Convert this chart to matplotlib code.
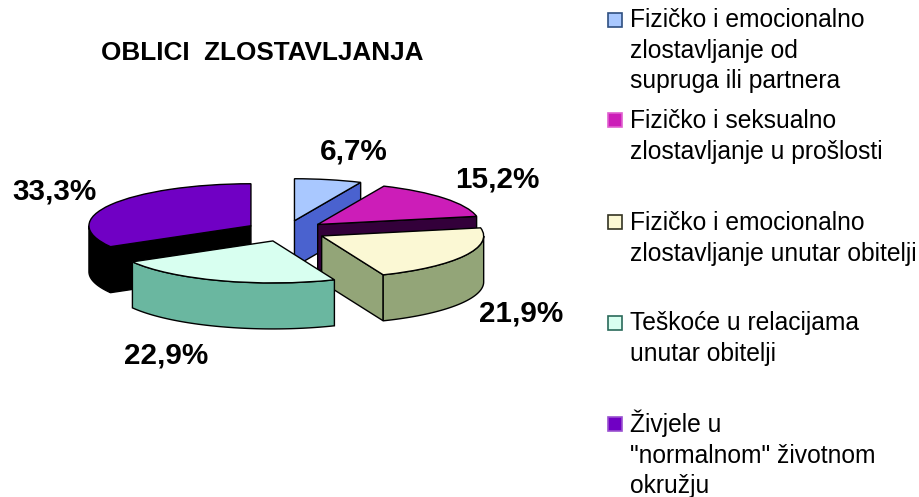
import numpy as np
import matplotlib
matplotlib.use("Agg")
import matplotlib.pyplot as plt
from matplotlib.patches import Rectangle

plt.rcParams['font.family'] = ['Liberation Sans', 'DejaVu Sans']

# --- data ---
title = "OBLICI  ZLOSTAVLJANJA"
categories = [
    "Fizičko i emocionalno\nzlostavljanje od\nsupruga ili partnera",
    "Fizičko i seksualno\nzlostavljanje u prošlosti",
    "Fizičko i emocionalno\nzlostavljanje unutar obitelji",
    "Teškoće u relacijama\nunutar obitelji",
    "Živjele u\n\"normalnom\" životnom\nokružju",
]
values = [6.7, 15.2, 21.9, 22.9, 33.3]

# --- styles ---
top_colors = ["#A9C8FF", "#CC1DB8", "#FBF8D4", "#D8FFF0", "#7000C4"]
side_colors = ["#4A62CF", "#33003A", "#93A578", "#6AB7A0", "#000000"]
swatch_edges = ["#2F4F80", "#E060D0", "#333322", "#2A6A5A", "#9A50D0"]
draw_rank = [2, 3, 4, 5, 1]  # painter's order of slices
explode_amt = 0.25

W, H = 920, 497
CX, CY, RX, RY, DEPTH = 286, 231, 162, 42, 46  # pie geometry in pixels
label_px = [(354, 152), (497, 179), (521, 314), (166, 355), (54, 192)]
legend_swatch_top = [13, 113, 215, 316, 417]
legend_baseline = [27, 128, 230, 330, 432]
line_step = 30.7

fig = plt.figure(figsize=(W / 100, H / 100), dpi=100, facecolor="white")
ax = fig.add_axes([0, 0, 1, 1])

wedges, _ = ax.pie(values, explode=[explode_amt] * len(values), startangle=90,
                   counterclock=False, radius=1, colors=top_colors,
                   wedgeprops=dict(edgecolor="#000000", linewidth=1.0))
ax.set_aspect("auto")
ax.set_xlim(-CX / RX, (W - CX) / RX)
ax.set_ylim((CY - H) / RY, CY / RY)
ax.axis("off")

depth = DEPTH / RY
fractions = np.array(values) / np.sum(values)
edges = np.concatenate([[0], np.cumsum(fractions)]) * 360


def rim(a, cx, cy):
    r = np.radians(a)
    return cx + np.sin(r), cy + np.cos(r)


for i, wedge in enumerate(wedges):
    a1, a2 = edges[i], edges[i + 1]
    mid = np.radians((a1 + a2) / 2)
    cx, cy = explode_amt * np.sin(mid), explode_amt * np.cos(mid)
    z = draw_rank[i] * 2
    wedge.set_zorder(z + 1)
    style = dict(facecolor=side_colors[i], edgecolor="#000000", linewidth=1.0, zorder=z)
    # radial cut faces turned towards the viewer
    for a, visible in ((a1, np.sin(np.radians(a1)) < -1e-9), (a2, np.sin(np.radians(a2)) > 1e-9)):
        if visible:
            px, py = rim(a, cx, cy)
            ax.fill([cx, px, px, cx], [cy, py, py - depth, cy - depth], **style)
    # outer wall (front half of the rim only)
    lo, hi = max(a1, 90), min(a2, 270)
    if hi > lo:
        t = np.linspace(lo, hi, 80)
        xs, ys = rim(t, cx, cy)
        ax.fill(np.r_[xs, xs[::-1]], np.r_[ys, ys[::-1] - depth], **style)

# title
fig.text(101 / W, 1 - 60 / H, title, fontsize=18.8, fontweight="bold", color="black",
         ha="left", va="baseline")

# value labels
for v, (x, y) in zip(values, label_px):
    fig.text(x / W, 1 - y / H, f"{v:.1f}%".replace(".", ","), fontsize=21.3,
             fontweight="bold", color="black", ha="center", va="center")

# legend
for i, cat in enumerate(categories):
    fig.add_artist(Rectangle((608 / W, 1 - (legend_swatch_top[i] + 14) / H), 14 / W, 14 / H,
                             transform=fig.transFigure, facecolor=top_colors[i],
                             edgecolor=swatch_edges[i], linewidth=1.2))
    for j, line in enumerate(cat.split("\n")):
        fig.text(630 / W, 1 - (legend_baseline[i] + j * line_step) / H, line,
                 fontsize=17.7, color="black", ha="left", va="baseline")

fig.savefig("out.png", dpi=100)
